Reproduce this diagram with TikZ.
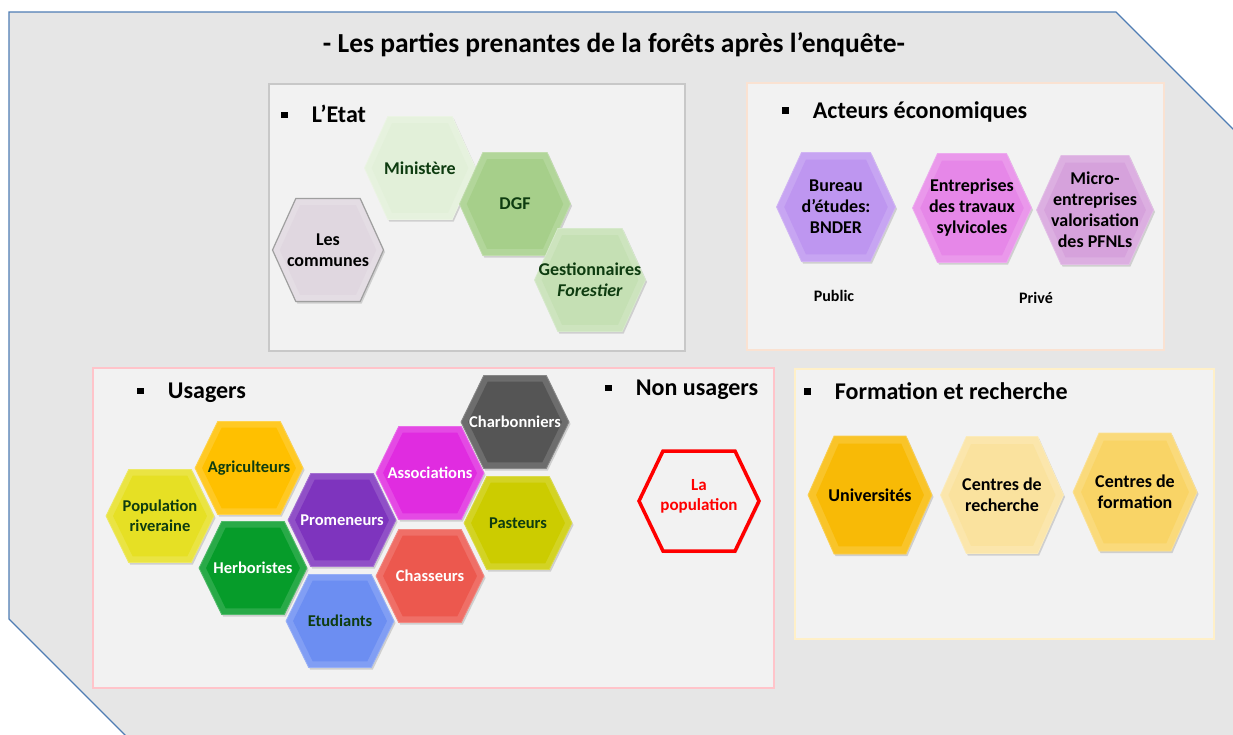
\documentclass[tikz,border=0pt]{standalone}
\usepackage{fontspec}
\setmainfont{Carlito}
\usetikzlibrary{positioning,shadows}
\definecolor{Back}{RGB}{230,230,230}
\definecolor{Edge}{RGB}{79,125,180}
\definecolor{Pane}{RGB}{242,242,242}
\definecolor{EtatLine}{RGB}{200,200,200}
\definecolor{EcoLine}{RGB}{250,226,210}
\definecolor{UsaLine}{RGB}{255,196,202}
\definecolor{FormLine}{RGB}{255,240,200}
\definecolor{Leaf}{RGB}{14,60,16}
\definecolor{Alarm}{RGB}{255,0,0}
\definecolor{Commune}{RGB}{224,215,224}
\definecolor{Ministre}{RGB}{226,240,217}
\definecolor{Dgf}{RGB}{166,207,138}
\definecolor{Gestion}{RGB}{197,224,180}
\definecolor{Bureau}{RGB}{190,150,240}
\definecolor{Entrep}{RGB}{230,135,232}
\definecolor{Micro}{RGB}{214,162,220}
\definecolor{Riv}{RGB}{230,224,36}
\definecolor{Agri}{RGB}{255,192,0}
\definecolor{Herbo}{RGB}{6,156,42}
\definecolor{Prom}{RGB}{126,52,190}
\definecolor{Etud}{RGB}{108,142,242}
\definecolor{Assoc}{RGB}{224,44,224}
\definecolor{Chass}{RGB}{236,88,78}
\definecolor{Charb}{RGB}{85,85,85}
\definecolor{Past}{RGB}{204,204,0}
\definecolor{Univ}{RGB}{248,186,6}
\definecolor{CRech}{RGB}{250,226,158}
\definecolor{CForm}{RGB}{249,212,102}
\newcommand\puce{\rule[.18em]{.28em}{.28em}\hspace{1em}}
\newcommand\hexa[6]{%
 \begin{scope}[shift={#2}]
 \path[rim=#5] (-#3/2,0) -- (-.29*#3,#4/2) -- (.29*#3,#4/2) -- (#3/2,0) -- (.29*#3,-#4/2) -- (-.29*#3,-#4/2) -- cycle;
 \fill[#5,scale=.87] (-#3/2,0) -- (-.29*#3,#4/2) -- (.29*#3,#4/2) -- (#3/2,0) -- (.29*#3,-#4/2) -- (-.29*#3,-#4/2) -- cycle;
 \end{scope}
 \node[hxt] (#1) at #2 {#6};}

\begin{document}
\begin{tikzpicture}[x=1pt,y=-1pt,
 rim/.style={fill=#1!86!white,draw=#1!70!white,line width=.8pt,drop shadow={opacity=.3,shadow xshift=1.5pt,shadow yshift=-2pt}},
 hxt/.style={align=center,inner sep=0pt,font=\fontsize{18}{21}\selectfont\bfseries},
 zone/.style={draw=#1,line width=1.5pt,fill=Pane,anchor=north west,inner sep=0pt},
 hd/.style={anchor=west,inner sep=0pt,font=\fontsize{24}{28}\selectfont\bfseries},
 tag/.style={inner sep=0pt,font=\fontsize{16}{19}\selectfont\bfseries}]
\useasboundingbox (0,0) rectangle (1233,734);
\clip (0,0) rectangle (1233,734);
\draw[draw=Edge,line width=1.2pt,fill=Back] (9,12) -- (1116,12) -- (1300,196) -- (1300,800) -- (190,800) -- (9,619) -- cycle;
\node[font=\fontsize{27.5}{32}\selectfont\bfseries] (title) at (614,45) {- Les parties prenantes de la forêts après l’enquête-};

\node[zone=EtatLine,minimum width=416,minimum height=267] (etat) at (268,83) {};
\node[zone=EcoLine,minimum width=417,minimum height=267] (eco) at (746,82) {};
\node[zone=UsaLine,minimum width=681,minimum height=320] (usa) at (92,367) {};
\node[zone=FormLine,minimum width=419,minimum height=270] (form) at (794,368) {};

\node[hd] (hetat) at (281,114) {\puce L’Etat};
\node[hd] (heco) at (782,112) {\puce Acteurs économiques};
\node[hd] (husa) at (137,393) {\puce Usagers};
\node[hd] (hnon) at (605,390) {\puce Non usagers};
\node[hd] (hform) at (804,391) {\puce Formation et recherche};

\begin{scope}[rim/.append style={draw=gray!75,line width=1.2pt}]
\hexa{communes}{(328,250)}{111}{103}{Commune}{Les\\communes}
\end{scope}
\begin{scope}[hxt/.append style={text=Leaf}]
\hexa{ministere}{(420,168)}{111}{103}{Ministre}{Ministère}
\hexa{dgf}{(515,204)}{111}{103}{Dgf}{DGF}
\hexa{gestion}{(590,280)}{111}{103}{Gestion}{Gestionnaires\\\textit{Forestier}}
\end{scope}

\hexa{bureau}{(836,207)}{119}{109}{Bureau}{Bureau\\d’études:\\BNDER}
\hexa{entreprises}{(972,208)}{119}{109}{Entrep}{Entreprises\\des travaux\\sylvicoles}
\hexa{micro}{(1095,210)}{117}{109}{Micro}{Micro-\\entreprises\\valorisation\\des PFNLs}
\node[tag] (public) at (834,296) {Public};
\node[tag] (prive) at (1036,298) {Privé};

\begin{scope}[hxt/.append style={text=Leaf,font=\fontsize{16.5}{20}\selectfont\bfseries}]
\hexa{riveraine}{(160,516)}{108}{93}{Riv}{Population\\riveraine}
\hexa{agri}{(249,468)}{108}{93}{Agri}{Agriculteurs}
\hexa{herbo}{(253,568)}{108}{93}{Herbo}{\textcolor{white}{Herboristes}}
\hexa{prom}{(342,520)}{108}{93}{Prom}{\textcolor{white}{Promeneurs}}
\hexa{etud}{(340,621)}{108}{93}{Etud}{Etudiants}
\hexa{assoc}{(430,473)}{108}{93}{Assoc}{\textcolor{white}{Associations}}
\hexa{chass}{(430,576)}{108}{93}{Chass}{\textcolor{white}{Chasseurs}}
\hexa{charb}{(515,422)}{108}{93}{Charb}{\textcolor{white}{Charbonniers}}
\hexa{past}{(518,523)}{108}{93}{Past}{Pasteurs}
\end{scope}

\draw[Alarm,line width=3.5pt,fill=Pane,drop shadow={opacity=.3,shadow xshift=1.5pt,shadow yshift=-2pt},shift={(699,501)}] (-60,0) -- (-36,50) -- (36,50) -- (60,0) -- (36,-50) -- (-36,-50) -- cycle;
\node[hxt,text=Alarm,font=\fontsize{17}{20}\selectfont\bfseries] (population) at (699,496) {La\\population};

\hexa{univ}{(870,495)}{124}{118}{Univ}{Universités}
\hexa{crech}{(1002,495)}{123}{117}{CRech}{Centres de\\recherche}
\hexa{cform}{(1135,492)}{124}{118}{CForm}{Centres de\\formation}
\end{tikzpicture}
\end{document}
